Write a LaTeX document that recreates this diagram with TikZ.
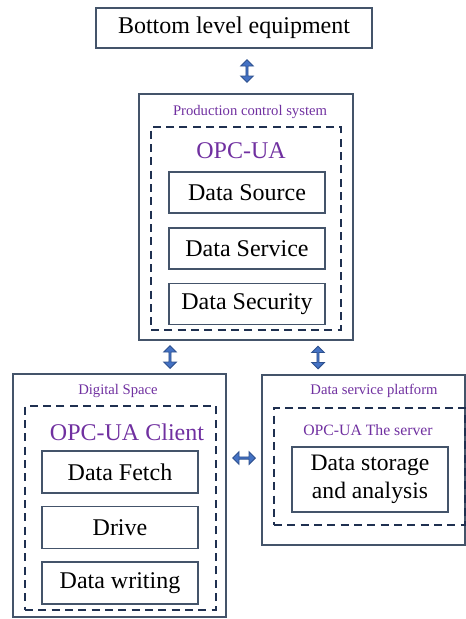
\documentclass[tikz,border=0pt]{standalone}
\usepackage{fontspec}
\setmainfont{Liberation Serif}
\usetikzlibrary{shapes.arrows,calc}

\definecolor{framegray}{HTML}{44546A}
\definecolor{dashnavy}{HTML}{1F3050}
\definecolor{labelpurple}{HTML}{7030A0}
\definecolor{arrowblue}{HTML}{4472C4}
\definecolor{arrowedge}{HTML}{2F528F}

\tikzset{
    outerbox/.style = {draw = framegray, line width = 1.1pt, inner sep = 0pt},
    groupbox/.style = {draw = dashnavy, line width = 2.1pt, dash pattern = on 6pt off 4pt, inner sep = 0pt},
    itembox/.style = {draw = framegray, line width = 0.9pt, minimum width = 117pt, font = \fontsize{18}{20}\selectfont},
    smalltag/.style = {text = labelpurple, font = \fontsize{11}{13}\selectfont},
    bigtag/.style = {text = labelpurple, font = \fontsize{18}{20}\selectfont},
    linkarrow/.style = {
        double arrow, fill = arrowblue, draw = arrowedge, line width = 0.7pt,
        minimum height = 17pt, minimum width = 9.5pt,
        double arrow head extend = 1.8pt, inner sep = 0pt
    }
}

\begin{document}
\begin{tikzpicture}[x=0.75pt, y=-0.75pt]
    \useasboundingbox (0,0) rectangle (466,619);

    % equipment at the top
    \node[outerbox, minimum width=207pt, minimum height=30pt,
          font=\fontsize{18}{20}\selectfont] (equip) at (234,28) {Bottom level equipment};

    % production control system
    \node[outerbox, minimum width=160.5pt, minimum height=184.5pt] (pcs) at (246,217) {};
    \node[smalltag] (pcstag) at (250,112) {Production control system};
    \node[groupbox, minimum width=142.5pt, minimum height=152.25pt] (opc) at (246,228.5) {};
    \node[bigtag] (opctag) at (241,151) {OPC-UA};
    \node[itembox, minimum height=30.75pt] (source) at (247,192.5) {Data Source};
    \node[itembox, minimum height=30.75pt] (service) at (247,248.5) {Data Service};
    \node[itembox, minimum height=30.75pt] (security) at (247,304) {Data Security};

    % digital space
    \node[outerbox, minimum width=159.75pt, minimum height=182.25pt] (digital) at (119.5,495.5) {};
    \node[smalltag] (digitaltag) at (118,391) {Digital Space};
    \node[groupbox, minimum width=143.25pt, minimum height=153pt] (client) at (120.5,508) {};
    \node[bigtag] (clienttag) at (127,432) {OPC-UA Client};
    \node[itembox, minimum height=31.5pt] (fetch) at (120,472) {Data Fetch};
    \node[itembox, minimum height=31.5pt] (drive) at (120,527.5) {Drive};
    \node[itembox, minimum height=31.5pt] (writing) at (120,583) {Data writing};

    % data service platform
    \node[outerbox, minimum width=152.25pt, minimum height=127.5pt] (platform) at (363.5,460) {};
    \node[smalltag] (platformtag) at (374,391) {Data service platform};
    \node[groupbox, minimum width=143.25pt, minimum height=87.75pt] (server) at (369.5,466.5) {};
    \node[smalltag, font=\fontsize{11.8}{14}\selectfont] (servertag) at (368,430) {OPC-UA The server};
    \node[itembox, minimum height=48.75pt, align=center,
          font=\fontsize{17.7}{21}\selectfont] (storage) at (370,479.5) {Data storage\\and analysis};

    % block arrows between the parts
    \coordinate (leftlink) at (170,0);
    \coordinate (rightlink) at (318,0);
    \coordinate (sidelink) at (0,458);
    \node[linkarrow, rotate=90] (a1) at ($(equip.south)!0.5!(pcs.north) + (7,0)$) {};
    \node[linkarrow, rotate=90] (a2) at ($(pcs.south -| leftlink)!0.5!(digital.north -| leftlink)$) {};
    \node[linkarrow, rotate=90] (a3) at ($(pcs.south -| rightlink)!0.5!(platform.north -| rightlink)$) {};
    \node[linkarrow] (a4) at ($(digital.east |- sidelink)!0.5!(platform.west |- sidelink)$) {};
\end{tikzpicture}
\end{document}
